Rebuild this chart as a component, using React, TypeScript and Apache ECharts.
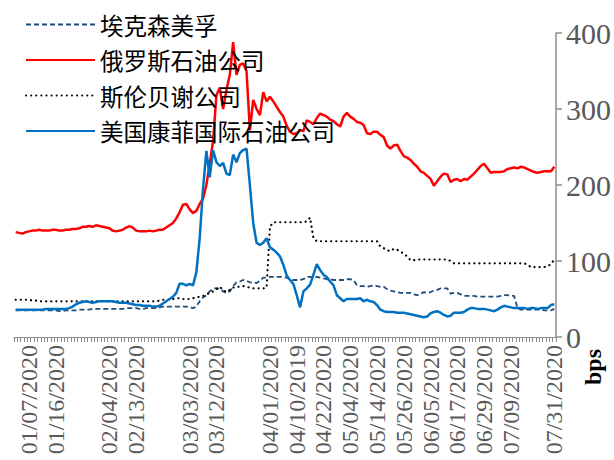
import React, { useEffect, useRef } from "react";
import * as echarts from "echarts";

// Visible date tick labels (every 8th trading day; "" = label not shown)
const dateTicks = [
  "01/07/2020", "01/16/2020", "", "02/04/2020", "02/13/2020", "",
  "03/03/2020", "03/12/2020", "", "04/01/2020", "04/10/2019", "04/22/2020",
  "05/04/2020", "05/14/2020", "05/26/2020", "06/05/2020", "06/17/2020",
  "06/29/2020", "07/09/2020", "07/21/2020",
];
const lastDate = "07/31/2020";

const seriesNames = ["埃克森美孚", "俄罗斯石油公司", "斯伦贝谢公司", "美国康菲国际石油公司"];

const exxon = [
  35,35,35,35,35,35,35,35,35,35,
  35,35,35,34,34,35,35,35,35,36,
  36,36,36,37,37,37,37,37,37,37,
  37,37,37,38,38,38,38,37,37,38,
  38,38,38,39,40,40,40,40,40,40,
  40,40,39,38,40,47,52,55,60,64,
  64,64,60,58,60,67,72,73,75,74,
  72,72,71,74,78,78,79,79,79,79,
  79,78,76,75,75,75,76,79,79,78,
  79,78,77,76,76,75,75,75,75,76,
  76,75,68,67,67,66,67,68,67,66,
  66,63,61,60,59,58,58,58,58,56,
  55,57,59,58,59,61,62,64,64,64,
  57,58,58,56,54,54,54,54,53,53,
  53,53,53,53,53,54,55,55,54,54,
  38,36,36,36,36,36,36,36,35,35,
  35,37,
];

const lukoil = [
  138,137,136,138,139,140,140,141,140,140,
  140,141,141,140,140,141,141,142,142,143,
  145,145,146,145,147,146,145,144,143,140,
  139,140,141,144,146,144,140,139,139,139,
  140,139,140,141,141,144,147,150,156,164,
  174,175,168,163,166,175,182,200,228,258,
  318,328,300,325,345,388,345,358,360,350,
  272,312,300,292,322,310,316,310,303,296,
  290,278,270,267,268,272,271,285,283,280,
  288,294,292,290,286,284,280,277,290,295,
  290,287,283,282,279,268,267,270,270,266,
  263,252,248,252,253,245,238,236,233,228,
  224,218,216,212,208,199,205,211,215,214,
  204,207,208,205,208,207,211,215,220,225,
  228,222,216,217,217,217,218,221,222,223,
  222,224,223,221,219,217,216,217,218,218,
  218,224,
];

const schlumberger = [
  49,49,49,49,49,48,48,47,47,47,
  47,47,47,47,47,47,47,47,47,47,
  47,47,47,47,47,47,47,47,47,47,
  47,47,47,47,47,47,47,47,47,47,
  47,47,47,48,49,49,49,50,51,51,
  50,50,50,51,52,53,54,56,58,60,
  63,66,62,59,62,65,66,66,67,66,
  65,64,64,64,64,65,145,151,151,151,
  151,151,151,151,151,151,151,152,157,130,
  126,126,126,126,126,126,126,126,126,126,
  126,126,126,126,126,126,126,126,126,119,
  117,114,113,116,115,112,110,106,101,101,
  102,102,102,102,102,102,102,102,102,102,
  100,97,97,97,97,97,97,97,97,97,
  97,97,97,97,97,97,97,97,97,97,
  97,97,97,95,92,92,92,92,92,93,
  96,102,
];

const conoco = [
  36,36,36,36,36,36,36,36,36,37,
  37,37,37,37,37,37,38,40,43,45,
  46,47,46,45,46,47,47,47,47,47,
  46,45,45,45,44,43,42,42,41,41,
  41,40,40,41,44,47,50,53,58,70,
  70,68,70,68,85,130,195,245,210,246,
  230,225,229,215,213,240,230,242,246,248,
  200,150,124,121,124,130,118,115,111,106,
  95,81,75,70,55,39,60,64,69,82,
  96,88,82,79,73,68,55,51,47,50,
  50,50,50,51,47,49,47,46,42,36,
  34,33,33,33,32,32,32,31,30,29,
  28,27,26,27,31,33,34,32,29,27,
  28,32,32,32,33,36,38,38,37,37,
  37,36,35,34,36,39,41,40,39,38,
  38,38,38,37,38,38,37,38,38,38,
  42,43,
];

const yTicks = [0, 100, 200, 300, 400];

const TICK_START = 4;
const TICK_STEP = 8;

export default function App() {
  const ref = useRef<HTMLDivElement>(null);

  useEffect(() => {
    if (!ref.current) return;
    const chart = echarts.init(ref.current, null, { renderer: "svg" });
    const n = lukoil.length;
    const labelAt = (i: number): string => {
      if (i === n - 1) return lastDate;
      if (i >= TICK_START && (i - TICK_START) % TICK_STEP === 0) {
        const k = (i - TICK_START) / TICK_STEP;
        return dateTicks[k] || "";
      }
      return "";
    };
    const categories = Array.from({ length: n }, (_, i) => {
      const l = labelAt(i);
      return l === "" ? "#" + i : l;
    });

    const axisGray = "#8c8c8c";
    const labelGray = "#595959";
    const serif = "'Liberation Serif', 'Times New Roman', serif";
    const cjk = "'Noto Sans CJK SC', sans-serif";

    const labelBase = {
      rotate: 90,
      margin: 8,
      fontSize: 24,
      color: labelGray,
      fontFamily: serif,
      hideOverlap: false,
    };

    chart.setOption({
      animation: false,
      backgroundColor: "#ffffff",
      grid: { left: 14, right: 58, top: 33, bottom: 123, containLabel: false },
      legend: {
        orient: "vertical",
        left: 20,
        top: 6,
        itemWidth: 69,
        itemHeight: 14,
        itemGap: 8.5,
        itemStyle: { opacity: 0 },
        textStyle: { fontSize: 23.5, color: "#000", fontFamily: cjk, lineHeight: 27 },
        data: seriesNames,
      },
      xAxis: [
        {
          type: "category",
          data: categories,
          boundaryGap: true,
          axisLine: { show: true, lineStyle: { color: axisGray, width: 1 } },
          axisTick: { show: true, interval: 0, length: 5, lineStyle: { color: axisGray } },
          axisLabel: {
            ...labelBase,
            interval: (i: number) => i < n - 1 && labelAt(i) !== "",
            formatter: (_v: string, i: number) => (i < n - 1 ? labelAt(i) : ""),
            showMaxLabel: false,
            showMinLabel: true,
          },
          splitLine: { show: false },
        },
        {
          type: "category",
          data: categories,
          boundaryGap: true,
          position: "bottom",
          axisLine: { show: false },
          axisTick: { show: false },
          axisLabel: {
            ...labelBase,
            interval: (i: number) => i === n - 1,
            formatter: (_v: string, i: number) => (i === n - 1 ? lastDate : ""),
            showMaxLabel: true,
            showMinLabel: false,
          },
          splitLine: { show: false },
        },
      ],
      yAxis: {
        type: "value",
        position: "right",
        min: yTicks[0],
        max: yTicks[yTicks.length - 1],
        interval: 100,
        axisLine: { show: true, lineStyle: { color: axisGray, width: 1.5 } },
        axisTick: { show: true, length: 6, lineStyle: { color: axisGray, width: 1.5 } },
        axisLabel: { fontSize: 30, color: labelGray, fontFamily: serif, margin: 10 },
        splitLine: { show: false },
      },
      graphic: [
        {
          type: "text",
          x: 581,
          y: 385,
          rotation: Math.PI / 2,
          style: {
            text: "bps",
            fontSize: 24,
            fontWeight: "bold",
            fontFamily: serif,
            fill: "#000",
          },
        },
      ],
      series: [
        {
          name: seriesNames[0],
          type: "line",
          data: exxon,
          symbol: "none",
          color: "#1F4E79",
          lineStyle: { color: "#1F4E79", width: 1.8, type: [5, 3] },
        },
        {
          name: seriesNames[1],
          type: "line",
          data: lukoil,
          symbol: "none",
          color: "#FF0000",
          lineStyle: { color: "#FF0000", width: 2.5 },
        },
        {
          name: seriesNames[2],
          type: "line",
          data: schlumberger,
          symbol: "none",
          color: "#000000",
          lineStyle: { color: "#000000", width: 2.2, type: [0.1, 5], cap: "round" },
        },
        {
          name: seriesNames[3],
          type: "line",
          data: conoco,
          symbol: "none",
          color: "#0070C0",
          lineStyle: { color: "#0070C0", width: 2.5 },
        },
      ],
    });
    return () => chart.dispose();
  }, []);

  return (
    <div
      ref={ref}
      style={{ position: "fixed", left: 0, top: 0, width: 614, height: 460, background: "#fff" }}
    />
  );
}
